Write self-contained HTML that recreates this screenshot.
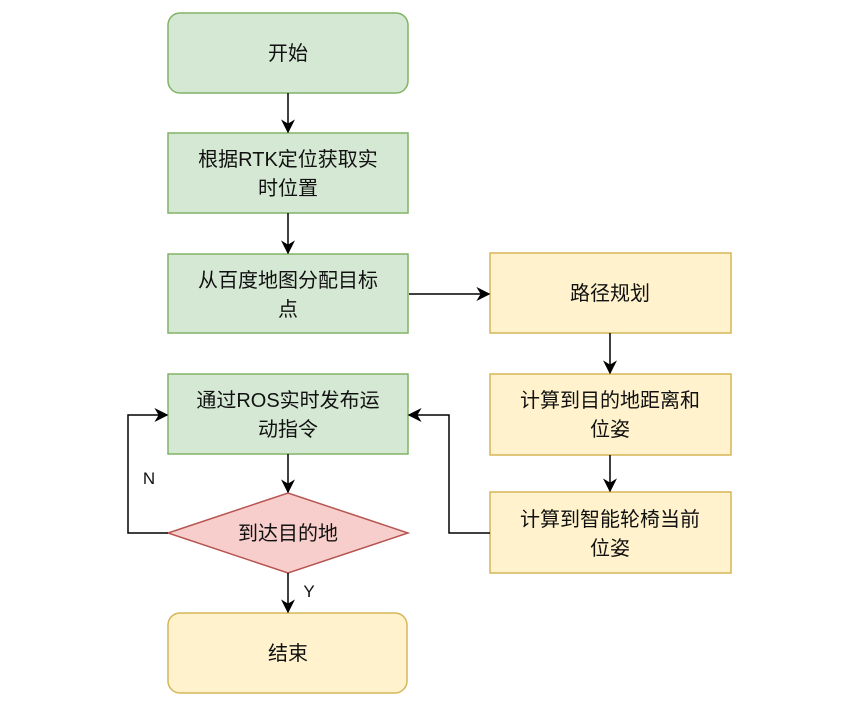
<!DOCTYPE html>
<html><head><meta charset="utf-8"><style>
html,body{margin:0;padding:0;background:#fff;}
svg text{font-family:"Liberation Sans","Noto Sans CJK SC",sans-serif;font-size:20px;fill:#111;text-anchor:middle;}
</style></head><body>
<svg width="865" height="722" viewBox="0 0 865 722" xmlns="http://www.w3.org/2000/svg">
<defs><marker id="a" viewBox="0 0 10 10" refX="9" refY="5" markerWidth="7" markerHeight="7" orient="auto" markerUnits="userSpaceOnUse"><path d="M0,0 L10,5 L0,10 L3,5 z" fill="#000"/></marker>
<marker id="b" viewBox="0 0 10 10" refX="9" refY="5" markerWidth="14" markerHeight="14" orient="auto" markerUnits="userSpaceOnUse"><path d="M0,0 L10,5 L0,10 L3,5 z" fill="#000"/></marker></defs>
<g stroke-width="1.5">
<rect x="168" y="13" width="240" height="80" rx="12" fill="#d5e8d4" stroke="#82b366"/>
<rect x="168" y="133" width="240" height="80" fill="#d5e8d4" stroke="#82b366"/>
<rect x="168" y="254" width="240" height="79" fill="#d5e8d4" stroke="#82b366"/>
<rect x="168" y="374" width="240" height="80" fill="#d5e8d4" stroke="#82b366"/>
<polygon points="168,533 288,493 408,533 288,573" fill="#f8cecc" stroke="#b85450"/>
<rect x="168" y="613" width="239" height="80" rx="12" fill="#fff2cc" stroke="#d6b656"/>
<rect x="490" y="253" width="241" height="80" fill="#fff2cc" stroke="#d6b656"/>
<rect x="490" y="374" width="241" height="81" fill="#fff2cc" stroke="#d6b656"/>
<rect x="490" y="492" width="241" height="81" fill="#fff2cc" stroke="#d6b656"/>
</g>
<g stroke="#000" stroke-width="1.5" fill="none" marker-end="url(#b)">
<line x1="288" y1="93" x2="288" y2="132"/>
<line x1="288" y1="213" x2="288" y2="253"/>
<line x1="288" y1="454" x2="288" y2="492"/>
<line x1="288" y1="573" x2="288" y2="612"/>
<line x1="409" y1="294" x2="489" y2="294"/>
<line x1="610" y1="333" x2="610" y2="373"/>
<line x1="610" y1="455" x2="610" y2="491"/>
<polyline points="168,533 128,533 128,415 167,415"/>
<polyline points="490,533 449,533 449,415 409,415"/>
</g>
<rect x="142" y="465" width="14" height="22" fill="#fff"/>
<rect x="302" y="578" width="14" height="22" fill="#fff"/>
<text x="149" y="484" style="font-size:17px">N</text>
<text x="309" y="597" style="font-size:17px">Y</text>
<text x="288" y="60">开始</text>
<text x="288" y="166">根据RTK定位获取实</text>
<text x="288" y="195">时位置</text>
<text x="288" y="287">从百度地图分配目标</text>
<text x="288" y="316">点</text>
<text x="288" y="407">通过ROS实时发布运</text>
<text x="288" y="436">动指令</text>
<text x="288" y="540">到达目的地</text>
<text x="288" y="660">结束</text>
<text x="610" y="300">路径规划</text>
<text x="610" y="407">计算到目的地距离和</text>
<text x="610" y="436">位姿</text>
<text x="610" y="526">计算到智能轮椅当前</text>
<text x="610" y="555">位姿</text>
</svg>
</body></html>
